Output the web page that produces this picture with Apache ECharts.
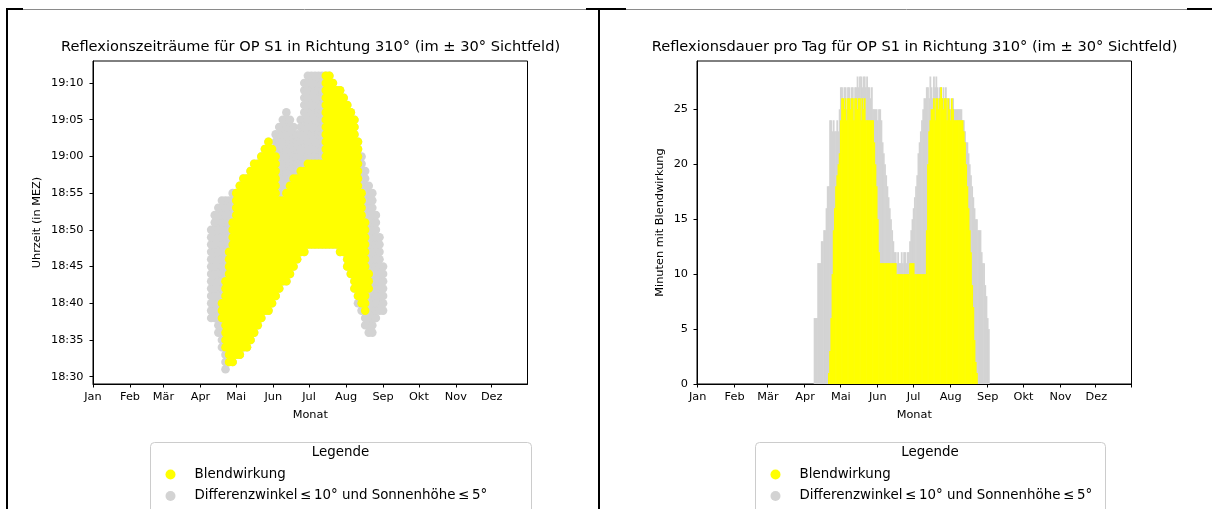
<!DOCTYPE html>
<html lang="de">
<head>
<meta charset="UTF-8">
<title>Reflexionszeiträume OP S1</title>
<style>
  html, body { margin: 0; padding: 0; background: #fff; }
  #chart { width: 1212px; height: 509px; }
</style>
</head>
<body>
<div id="chart"></div>
<script src="https://cdn.jsdelivr.net/npm/echarts@6.0.0/dist/echarts.min.js"></script>
<script>
// Achsen
const monthStarts = [0, 31, 59, 90, 120, 151, 181, 212, 243, 273, 304, 334];
const monthLabels = ['Jan', 'Feb', 'Mär', 'Apr', 'Mai', 'Jun', 'Jul', 'Aug', 'Sep', 'Okt', 'Nov', 'Dez'];
const timeLabels = ['18:30', '18:35', '18:40', '18:45', '18:50', '18:55', '19:00', '19:05', '19:10'];
const minuteTicks = [0, 5, 10, 15, 20, 25];

// Reflexionszeiträume: [Tag im Jahr, von (Min. nach 18:00), bis (Min. nach 18:00)]
const grayRanges = [
  [99, 38, 50], [102, 38, 52], [105, 36, 53], [108, 34, 54], [111, 31, 54], [114, 32, 54],
  [117, 32, 55], [120, 33, 55], [123, 33, 56], [126, 34, 57], [129, 34, 57], [132, 35, 58],
  [135, 36, 59], [138, 37, 59], [141, 38, 60], [144, 39, 61], [147, 39, 62], [150, 40, 61],
  [153, 41, 63], [156, 42, 64], [159, 43, 65], [162, 43, 66], [165, 44, 65], [168, 45, 64],
  [171, 46, 63], [174, 47, 65], [177, 47, 70], [180, 48, 71], [183, 48, 71], [186, 48, 71],
  [189, 48, 71], [192, 48, 71], [195, 48, 71], [198, 48, 71], [201, 48, 70], [204, 48, 69],
  [207, 47, 69], [210, 47, 68], [213, 45, 67], [216, 44, 66], [219, 42, 65], [222, 40, 62],
  [225, 39, 60], [228, 37, 58], [231, 36, 56], [234, 36, 55], [237, 38, 52], [240, 39, 49],
  [243, 39, 45]
];
const yellowRanges = [
  [108, 38, 40], [111, 34, 43], [114, 32, 47], [117, 32, 51], [120, 33, 55], [123, 33, 56],
  [126, 34, 57], [129, 34, 57], [132, 35, 58], [135, 36, 59], [138, 37, 59], [141, 38, 60],
  [144, 39, 61], [147, 39, 62], [150, 40, 61], [153, 41, 60], [156, 42, 54], [159, 43, 54],
  [162, 43, 55], [165, 44, 56], [168, 45, 57], [171, 46, 57], [174, 47, 58], [177, 47, 58],
  [180, 48, 59], [183, 48, 59], [186, 48, 59], [189, 48, 59], [192, 48, 59], [195, 48, 71],
  [198, 48, 71], [201, 48, 70], [204, 48, 69], [207, 47, 69], [210, 47, 68], [213, 45, 67],
  [216, 44, 66], [219, 42, 65], [222, 41, 62], [225, 40, 55], [228, 39, 51], [231, 42, 44]
];

// Minuten pro Tag
const grayStartDay = 98;
const grayMinutes = [
  6, 6, 6, 11, 11, 11, 13, 13, 14, 14, 16, 18, 18, 24, 24, 23, 24, 23, 23, 24, 23, 25,
  27, 27, 26, 27, 27, 25, 27, 27, 26, 27, 27, 26, 27, 27, 28, 27, 28, 28, 27, 28, 28, 27,
  28, 27, 27, 26, 27, 25, 25, 25, 25, 24, 25, 25, 24, 22, 21, 20, 19, 18, 17, 16, 15, 14,
  13, 12, 12, 11, 12, 11, 11, 12, 11, 12, 12, 11, 12, 12, 13, 14, 15, 16, 17, 18, 19, 21,
  22, 23, 24, 25, 26, 26, 27, 27, 26, 28, 27, 26, 28, 27, 28, 27, 26, 27, 27, 26, 27, 26,
  27, 26, 25, 26, 25, 25, 26, 25, 25, 25, 25, 25, 25, 25, 24, 24, 23, 22, 22, 21, 20, 19,
  18, 17, 16, 15, 15, 14, 14, 14, 12, 11, 11, 9, 8, 6, 5
];
const yellowStartDay = 110;
const yellowMinutes = [
  1, 3, 6, 10, 14, 16, 18, 19, 20, 21, 24, 26, 26, 25, 26, 24, 26, 26, 25, 26, 26, 24,
  26, 26, 25, 26, 26, 24, 26, 25, 26, 24, 24, 24, 24, 24, 24, 24, 22, 20, 18, 15, 12,
  11, 11, 11, 11, 11, 11, 11, 11, 11, 11, 11, 11, 11, 11,
  10, 10, 10, 10, 10, 10, 10, 10, 10, 10, 10,
  11, 11, 11, 11,
  10, 10, 10, 10, 10, 10, 10, 10, 10, 10,
  14, 20, 23, 24, 25, 25, 26, 24, 26, 26, 25, 26, 27, 26, 25, 26, 26, 24, 26, 25, 24, 26,
  25, 24, 24, 24, 24, 24, 24, 24, 24, 23, 22, 20, 18, 16, 14, 12, 9, 7, 4, 2, 1
];

const FONT = 'DejaVu Sans';
const YELLOW = '#ffff00';
const GRAY = '#d3d3d3';
const NAME_Y = 'Blendwirkung';
const NAME_G = 'Differenzwinkel\u2009≤\u200910° und Sonnenhöhe\u2009≤\u20095°';

const toMinutes = s => (Number(s.slice(0, 2)) - 18) * 60 + Number(s.slice(3));
const timeValues = timeLabels.map(toMinutes);

const NDAYS = 364;
const dayCats = [];
for (let i = 0; i < NDAYS; i++) dayCats.push(String(i));
function fillDays(start, values) {
  const out = new Array(NDAYS).fill(null);
  values.forEach((v, i) => { out[start + i] = v; });
  return out;
}

// jeder Tag: Punkte für jede Minute im Zeitraum
function renderSpan(params, api) {
  const d = api.value(0), lo = api.value(1), hi = api.value(2);
  const children = [];
  for (let m = lo; m <= hi; m++) {
    const p = api.coord([d, m]);
    children.push({ type: 'circle', shape: { cx: p[0], cy: p[1], r: 4.3 },
      style: { fill: api.visual('color') } });
  }
  return { type: 'group', children };
}

const axisCommon = {
  axisLine: { show: true, lineStyle: { color: '#000', width: 1 } },
  axisTick: { show: true, length: 3.5, lineStyle: { color: '#000', width: 1 } },
  splitLine: { show: false },
  nameTextStyle: { fontFamily: FONT, fontSize: 11.3, color: '#000' }
};
const labelCommon = { fontFamily: FONT, fontSize: 11.3, color: '#000' };

const gridL = { left: 93, top: 61, width: 434.5, height: 323 };
const gridR = { left: 697, top: 61, width: 434.5, height: 323 };

function frameLines() {
  const line = (x1, y1, x2, y2, w, c) => ({ type: 'line', silent: true,
    shape: { x1, y1, x2, y2 }, style: { stroke: c, lineWidth: w } });
  return [
    line(7, 9, 7, 509, 2, '#000'),
    line(599, 9, 599, 509, 2, '#000'),
    line(23, 9.5, 586, 9.5, 1, '#8a8a8a'),
    line(626, 9.5, 1187, 9.5, 1, '#8a8a8a'),
    line(6, 9, 23, 9, 2, '#000'),
    line(586, 9, 626, 9, 2, '#000'),
    line(1187, 9, 1212, 9, 2, '#000')
  ];
}
function legendBox(x, w, cx) {
  return [
    { type: 'rect', silent: true, shape: { x: x + 0.5, y: 442.5, width: w, height: 90, r: 4 },
      style: { fill: '#fff', stroke: '#cccccc', lineWidth: 1 } },
    { type: 'text', silent: true, x: cx, y: 453,
      style: { text: 'Legende', fontFamily: FONT, fontSize: 13.4, fill: '#000',
        align: 'center', verticalAlign: 'middle' } }
  ];
}
function titleText(x, text) {
  return { type: 'text', silent: true, x, y: 47,
    style: { text, fontFamily: FONT, fontSize: 14.6, fill: '#000', align: 'center', verticalAlign: 'middle' } };
}

const legendCommon = {
  orient: 'vertical', top: 463, itemWidth: 38, itemHeight: 10, itemGap: 8.5,
  icon: 'circle', selectedMode: false,
  textStyle: { fontFamily: FONT, fontSize: 13.4, color: '#000' },
  data: [NAME_Y, NAME_G]
};

const barCommon = { type: 'bar', xAxisIndex: 1, yAxisIndex: 1, barWidth: 1.8, barGap: '-100%' };

const option = {
  animation: false,
  backgroundColor: '#fff',
  grid: [
    Object.assign({ show: true, borderColor: '#000', borderWidth: 1 }, gridL),
    Object.assign({ show: true, borderColor: '#000', borderWidth: 1 }, gridR)
  ],
  xAxis: [
    Object.assign({}, axisCommon, {
      type: 'value', gridIndex: 0, min: 0, max: 364,
      name: 'Monat', nameLocation: 'middle', nameGap: 26,
      axisTick: Object.assign({}, axisCommon.axisTick, { customValues: monthStarts }),
      axisLabel: Object.assign({}, labelCommon, { margin: 8, customValues: monthStarts,
        formatter: v => monthLabels[monthStarts.indexOf(v)] })
    }),
    Object.assign({}, axisCommon, {
      type: 'category', gridIndex: 1, data: dayCats, boundaryGap: true,
      name: 'Monat', nameLocation: 'middle', nameGap: 26,
      axisTick: Object.assign({}, axisCommon.axisTick,
        { interval: i => monthStarts.indexOf(i) >= 0, alignWithLabel: false }),
      axisLabel: Object.assign({}, labelCommon, { margin: 8,
        interval: i => monthStarts.indexOf(i) >= 0,
        formatter: v => monthLabels[monthStarts.indexOf(Number(v))] })
    })
  ],
  yAxis: [
    Object.assign({}, axisCommon, {
      type: 'value', gridIndex: 0, min: 29, max: 73,
      name: 'Uhrzeit (in MEZ)', nameLocation: 'middle', nameGap: 50,
      axisTick: Object.assign({}, axisCommon.axisTick, { customValues: timeValues }),
      axisLabel: Object.assign({}, labelCommon, { margin: 9.5, customValues: timeValues,
        formatter: v => timeLabels[timeValues.indexOf(v)] })
    }),
    Object.assign({}, axisCommon, {
      type: 'value', gridIndex: 1, min: 0, max: 29.4,
      name: 'Minuten mit Blendwirkung', nameLocation: 'middle', nameGap: 31,
      axisTick: Object.assign({}, axisCommon.axisTick, { customValues: minuteTicks }),
      axisLabel: Object.assign({}, labelCommon, { margin: 9, customValues: minuteTicks })
    })
  ],
  legend: [
    Object.assign({}, legendCommon, { left: 160.5 }),
    Object.assign({}, legendCommon, { left: 765.5 })
  ],
  graphic: [].concat(
    frameLines(),
    legendBox(150, 381, 340.5),
    legendBox(755, 350, 930),
    [titleText(310.5, 'Reflexionszeiträume für OP S1 in Richtung 310° (im ± 30° Sichtfeld)'),
     titleText(914.5, 'Reflexionsdauer pro Tag für OP S1 in Richtung 310° (im ± 30° Sichtfeld)')]
  ),
  series: [
    { type: 'custom', name: NAME_G, xAxisIndex: 0, yAxisIndex: 0, renderItem: renderSpan,
      itemStyle: { color: GRAY }, encode: { x: 0, y: [1, 2] }, data: grayRanges },
    { type: 'custom', name: NAME_Y, xAxisIndex: 0, yAxisIndex: 0, renderItem: renderSpan,
      itemStyle: { color: YELLOW }, encode: { x: 0, y: [1, 2] }, data: yellowRanges },
    Object.assign({ name: NAME_G, itemStyle: { color: GRAY },
      data: fillDays(grayStartDay, grayMinutes) }, barCommon),
    Object.assign({ name: NAME_Y, itemStyle: { color: YELLOW },
      data: fillDays(yellowStartDay, yellowMinutes) }, barCommon)
  ]
};

const chart = echarts.init(document.getElementById('chart'), null, { renderer: 'canvas' });
chart.setOption(option);
</script>
</body>
</html>
